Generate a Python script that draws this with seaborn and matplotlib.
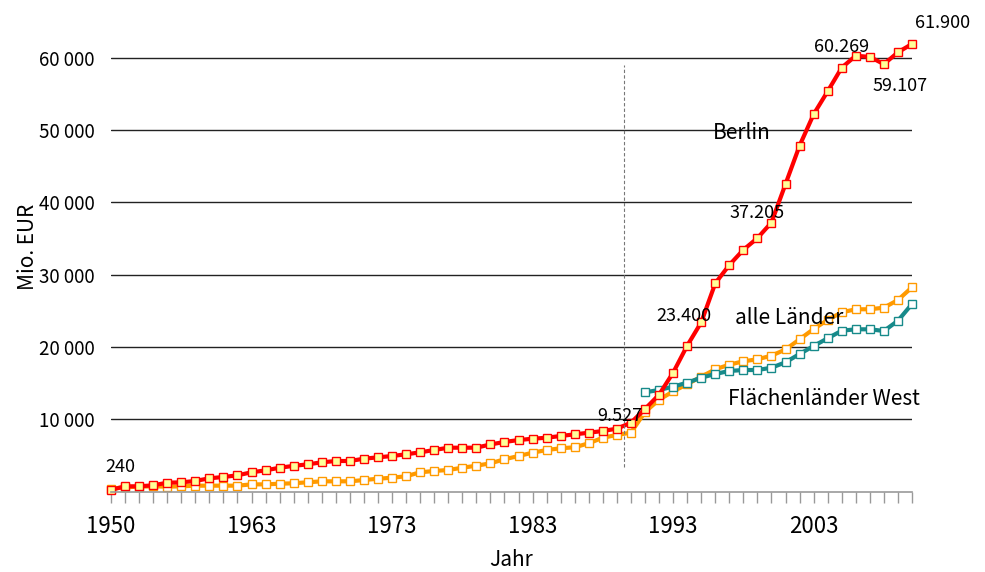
import numpy as np
import pandas as pd
import matplotlib
matplotlib.use('Agg')
import matplotlib.pyplot as plt
import seaborn as sns

sns.set_style('white')
plt.rcParams['font.family'] = ['Noto Sans CJK JP', 'DejaVu Sans']
plt.rcParams['text.color'] = 'black'
plt.rcParams['axes.labelcolor'] = 'black'
plt.rcParams['xtick.color'] = 'black'
plt.rcParams['ytick.color'] = 'black'

# categories (first point 1950, then yearly from 1954)
years = [1950] + list(range(1954, 2011))

# Mio. EUR
berlin = [240, 730, 730, 870, 1230, 1280, 1470, 1840, 2020, 2250,
          2670, 2940, 3300, 3560, 3770, 4050, 4230, 4230, 4550, 4740,
          4920, 5160, 5430, 5750, 6070, 6070, 6070, 6520, 6860, 7130,
          7310, 7450, 7690, 7920, 8140, 8380, 8700, 9527, 11420, 13400,
          16440, 20170, 23400, 28800, 31330, 33430, 35050, 37205, 42530, 47830,
          52170, 55350, 58620, 60269, 60100, 59107, 60740, 61900]
alle_laender = [400, 600, 680, 730, 680, 730, 820, 820, 820, 820,
                1000, 1000, 1090, 1150, 1290, 1420, 1420, 1420, 1600, 1780,
                1920, 2120, 2670, 2850, 2990, 3300, 3580, 3910, 4470, 4920,
                5380, 5750, 5990, 6130, 6680, 7450, 7830, 8150, 11000, 12700,
                13850, 14840, 15890, 16910, 17550, 18020, 18290, 18800, 19650, 21060,
                22480, 23730, 24790, 25210, 25210, 25430, 26490, 28250]
flaechen_west = [np.nan] * 38 + [13730, 14050, 14510, 15060, 15750, 16260, 16680, 16810, 16810, 17130,
                                 17880, 19030, 20130, 21200, 22250, 22440, 22440, 22210, 23630, 25940]

value_labels = ['240', '9.527', '23.400', '37.205', '60.269', '59.107', '61.900']
label_pos = [(0.64, 3400), (36.2, 10460), (40.8, 24270), (45.94, 38470),
             (52.0, 61520), (56.17, 56040), (59.14, 64840)]

df = pd.DataFrame({'pos': np.arange(len(years)), 'Jahr': years,
                   'Berlin': berlin, 'alle Länder': alle_laender,
                   'Flächenländer West': flaechen_west})

fig = plt.figure(figsize=(9.85, 5.72), dpi=100)
ax = fig.add_axes([111/985, (572-491.6)/572, (912-111)/985, 470.1/572])

styles = [('alle Länder', '#FF9A00', 'white'),
          ('Flächenländer West', '#178A8A', 'white'),
          ('Berlin', '#FF0000', '#FFFF99')]
for name, col, face in styles:
    d = df.dropna(subset=[name])
    sns.lineplot(data=d, x='pos', y=name, ax=ax, color=col, lw=3,
                 marker='s', markersize=5.5, markerfacecolor=face,
                 markeredgecolor=col, markeredgewidth=1, clip_on=False)

ax.vlines(36.5, 3400, 59000, colors='#777777', linestyles=(0, (3, 2)), lw=0.8)

for txt, (x, y) in zip(value_labels, label_pos):
    ax.text(x, y, txt, ha='center', va='center', fontsize=13)

ax.text(44.87, 49650, 'Berlin', ha='center', va='center', fontsize=15)
ax.text(48.27, 24050, 'alle Länder', ha='center', va='center', fontsize=15)
ax.text(50.71, 12850, 'Flächenländer West', ha='center', va='center', fontsize=15)

ax.set_xlim(0, 57)
ax.set_ylim(0, 65000)
ax.set_xticks(df['pos'])
ax.set_xticklabels([str(y) if i % 10 == 0 else '' for i, y in enumerate(years)], fontsize=16)
ax.tick_params(axis='x', bottom=True, length=8, color='#999999', width=1, pad=9, direction='out')
yt = [10000, 20000, 30000, 40000, 50000, 60000]
ax.set_yticks(yt)
ax.set_yticklabels(['{:,}'.format(v).replace(',', ' ') for v in yt], fontsize=13.5)
ax.tick_params(axis='y', left=False, length=0, pad=12)
ax.grid(axis='y', color='#222222', lw=1)
ax.grid(axis='x', visible=False)
for s in ['left', 'right', 'top']:
    ax.spines[s].set_visible(False)
ax.spines['bottom'].set_color('#999999')
ax.spines['bottom'].set_linewidth(1.2)

ax.set_xlabel('Jahr', fontsize=15)
ax.set_ylabel('Mio. EUR', fontsize=15)
ax.xaxis.set_label_coords(0.5, -0.122)
ax.yaxis.set_label_coords(-0.09, 0.52)

fig.savefig('out.png', dpi=100)
